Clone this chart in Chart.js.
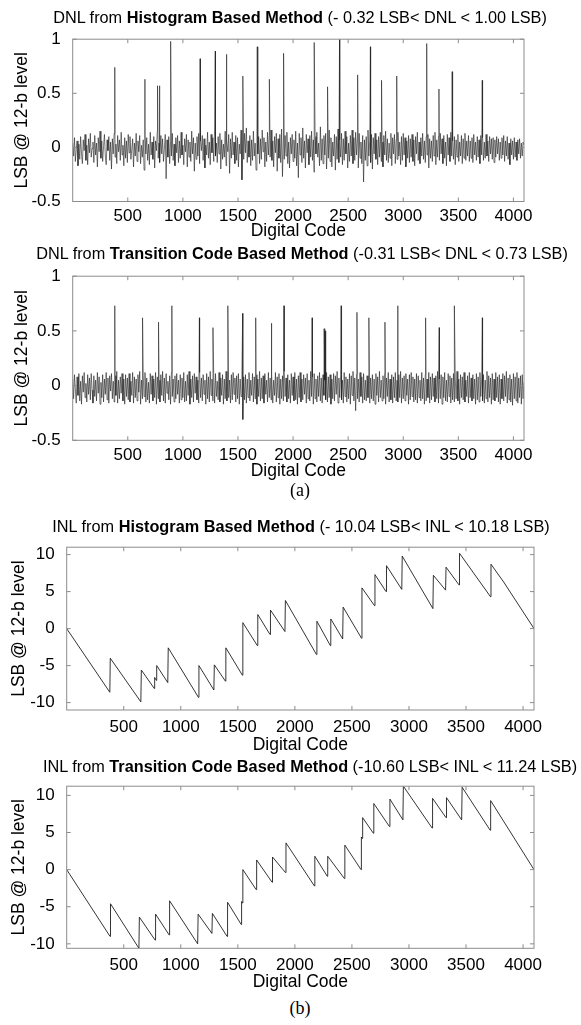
<!DOCTYPE html>
<html>
<head>
<meta charset="utf-8">
<script src="https://cdn.jsdelivr.net/npm/chart.js@4.4.1/dist/chart.umd.min.js"></script>
<style>
  body { margin: 0; background: #fff; }
  #page { position: relative; width: 581px; height: 1025px; overflow: hidden; background: #fff;
          font-family: "Liberation Sans", Arial, sans-serif; }
  canvas { position: absolute; left: 0; }
  .title { position: absolute; white-space: nowrap; font-size: 16.3px; color: #000;
           transform: translate(-50%, -50%); z-index: 2; }
  .sub { position: absolute; font-family: "Liberation Serif", "Times New Roman", serif;
         font-size: 18px; color: #000; transform: translate(-50%, -50%); }
</style>
</head>
<body>
<div id="page">
  <canvas id="dnlHist" width="581" height="217" style="top:25px"></canvas>
  <canvas id="dnlTrans" width="581" height="220" style="top:262px"></canvas>
  <canvas id="inlHist" width="581" height="223" style="top:533px"></canvas>
  <canvas id="inlTrans" width="581" height="221" style="top:772px"></canvas>

  <div class="title" style="left:300px;top:17px">DNL from <b>Histogram Based Method</b> (- 0.32 LSB&lt; DNL &lt; 1.00 LSB)</div>
  <div class="title" style="left:302px;top:253px">DNL from <b>Transition Code Based Method</b> (-0.31 LSB&lt; DNL &lt; 0.73 LSB)</div>
  <div class="sub" style="left:300px;top:490px">(a)</div>
  <div class="title" style="left:301px;top:526px">INL from <b>Histogram Based Method</b> (- 10.04 LSB&lt; INL &lt; 10.18 LSB)</div>
  <div class="title" style="left:310px;top:766px">INL from <b>Transition Code Based Method</b> (-10.60 LSB&lt; INL &lt; 11.24 LSB)</div>
  <div class="sub" style="left:300px;top:1008px">(b)</div>
</div>
<script>
// Tick labels
const xTicks = [500, 1000, 1500, 2000, 2500, 3000, 3500, 4000];
const dnlTicks = [-0.5, 0, 0.5, 1];
const inlTicks = [-10, -5, 0, 5, 10];

// DNL background noise, one reading every 8 codes (0 .. 4096), 16 readings per row
const noiseStep = 8;
const dnlHistNoise = [
  0.04, -0.08, 0.09, -0.13, -0.02, 0.06, -0.17, 0.03, -0.11, 0.10, -0.06, -0.15, 0.07, -0.03, 0.12, -0.12,
  0.02, -0.16, 0.08, -0.05, 0.13, -0.09, -0.01, 0.05, -0.14, 0.11, -0.07, 0.04, -0.18, 0.09, -0.04, 0.15,
  -0.10, 0.06, -0.13, 0.01, 0.12, -0.08, -0.16, 0.07, -0.03, 0.10, -0.12, 0.05, -0.20, 0.08, -0.06, 0.13,
  -0.09, 0.03, -0.15, 0.11, -0.04, 0.07, -0.12, 0.14, -0.07, 0.02, -0.17, 0.09, -0.10, 0.06, -0.14, 0.12,
  -0.05, 0.10, -0.11, -0.02, 0.08, -0.18, 0.04, -0.08, 0.13, -0.13, 0.06, -0.04, 0.11, -0.15, 0.02, -0.09,
  0.07, -0.21, 0.12, -0.06, 0.09, -0.12, 0.03, -0.16, 0.14, -0.07, 0.05, -0.11, 0.10, -0.19, 0.06, -0.03,
  0.15, -0.10, 0.04, -0.14, 0.11, -0.06, 0.08, -0.13, -0.02, 0.12, -0.29, 0.07, -0.09, 0.10, -0.15, 0.05,
  -0.08, 0.13, -0.12, 0.03, -0.17, 0.09, -0.05, 0.11, -0.14, 0.06, -0.10, 0.14, -0.07, 0.02, -0.16, 0.08,
  -0.04, 0.12, -0.18, 0.07, -0.09, 0.05, -0.13, 0.15, -0.06, 0.09, -0.22, 0.04, -0.11, 0.10, -0.08, 0.13,
  -0.15, 0.06, -0.03, 0.11, -0.12, 0.08, -0.19, 0.02, -0.07, 0.14, -0.10, 0.05, -0.16, 0.12, -0.05, 0.09,
  -0.13, 0.17, -0.08, 0.04, -0.14, 0.10, -0.06, 0.13, -0.20, 0.07, -0.11, 0.03, -0.09, 0.15, -0.17, 0.06,
  -0.04, 0.12, -0.24, 0.08, -0.10, 0.14, -0.07, 0.05, -0.15, 0.11, -0.12, 0.09, -0.18, 0.03, -0.06, 0.16,
  -0.30, 0.09, -0.11, 0.13, -0.05, 0.18, -0.14, 0.06, -0.09, 0.11, -0.17, 0.07, -0.12, 0.15, -0.08, 0.04,
  -0.21, 0.12, -0.06, 0.10, -0.15, 0.08, -0.11, 0.16, -0.04, 0.09, -0.18, 0.05, -0.13, 0.14, -0.07, 0.11,
  -0.09, 0.16, -0.12, 0.06, -0.18, 0.10, -0.05, 0.13, -0.22, 0.08, -0.10, 0.12, -0.14, 0.17, -0.27, 0.07,
  -0.11, 0.11, -0.08, 0.14, -0.15, 0.05, -0.19, 0.09, -0.06, 0.12, -0.13, 0.07, -0.10, 0.15, -0.17, 0.04,
  -0.28, 0.13, -0.07, 0.09, -0.14, 0.18, -0.10, 0.06, -0.19, 0.12, -0.05, 0.08, -0.16, 0.11, -0.09, 0.15,
  -0.12, 0.07, -0.23, 0.10, -0.06, 0.14, -0.09, 0.04, -0.17, 0.19, -0.12, 0.08, -0.15, 0.11, -0.07, 0.13,
  -0.20, 0.06, -0.10, 0.16, -0.13, 0.09, -0.18, 0.05, -0.08, 0.12, -0.21, 0.10, -0.11, 0.17, -0.14, 0.07,
  -0.09, 0.13, -0.16, 0.08, -0.12, 0.15, -0.06, 0.10, -0.19, 0.04, -0.13, 0.11, -0.08, 0.16, -0.15, 0.09,
  -0.12, 0.14, -0.07, 0.08, -0.19, 0.13, -0.10, 0.05, -0.15, 0.11, -0.32, 0.07, -0.12, 0.10, -0.17, 0.16,
  -0.08, 0.06, -0.14, 0.12, -0.20, 0.09, -0.06, 0.13, -0.11, 0.07, -0.16, 0.10, -0.09, 0.14, -0.13, 0.05,
  -0.18, 0.11, -0.07, 0.15, -0.12, 0.08, -0.14, 0.04, -0.10, 0.13, -0.17, 0.09, -0.06, 0.12, -0.15, 0.07,
  -0.11, 0.14, -0.08, 0.05, -0.16, 0.10, -0.12, 0.13, -0.07, 0.09, -0.18, 0.06, -0.10, 0.11, -0.14, 0.08,
  -0.09, 0.12, -0.13, 0.07, -0.17, 0.10, -0.06, 0.14, -0.12, 0.05, -0.15, 0.09, -0.08, 0.13, -0.11, 0.06,
  -0.14, 0.10, -0.07, 0.12, -0.19, 0.08, -0.10, 0.06, -0.13, 0.11, -0.08, 0.14, -0.16, 0.07, -0.09, 0.10,
  -0.12, 0.13, -0.06, 0.08, -0.15, 0.11, -0.10, 0.05, -0.17, 0.12, -0.07, 0.09, -0.13, 0.14, -0.08, 0.06,
  -0.11, 0.10, -0.16, 0.07, -0.09, 0.12, -0.13, 0.05, -0.08, 0.11, -0.15, 0.08, -0.10, 0.13, -0.12, 0.06,
  -0.08, 0.11, -0.13, 0.06, -0.10, 0.09, -0.14, 0.12, -0.07, 0.05, -0.12, 0.10, -0.09, 0.07, -0.15, 0.11,
  -0.07, 0.09, -0.12, 0.05, -0.10, 0.12, -0.08, 0.06, -0.13, 0.10, -0.06, 0.08, -0.11, 0.09, -0.14, 0.07,
  -0.09, 0.10, -0.06, 0.08, -0.12, 0.05, -0.10, 0.09, -0.07, 0.11, -0.13, 0.06, -0.08, 0.10, -0.11, 0.04,
  -0.16, 0.08, -0.07, 0.06, -0.11, 0.09, -0.09, 0.05, -0.12, 0.07, -0.06, 0.08, -0.10, 0.04, -0.08, 0.05,
  0.02
];
const dnlTransNoise = [
  0.06, -0.12, 0.10, -0.03, -0.16, 0.08, -0.09, 0.11, -0.14, 0.04, -0.17, 0.09, -0.06, 0.12, -0.11, 0.02,
  -0.15, 0.10, -0.08, 0.07, -0.13, 0.11, -0.04, -0.16, 0.09, -0.10, 0.05, -0.14, 0.12, -0.07, 0.08, -0.17,
  0.03, -0.11, 0.10, -0.15, 0.06, -0.08, 0.12, -0.13, 0.07, -0.16, 0.09, -0.05, 0.11, -0.12, 0.04, -0.15,
  0.09, -0.09, 0.13, -0.16, 0.05, -0.12, 0.08, -0.07, 0.11, -0.14, 0.06, -0.17, 0.10, -0.10, 0.07, -0.13,
  0.11, -0.15, 0.04, -0.09, 0.12, -0.16, 0.08, -0.11, 0.06, -0.14, 0.10, -0.06, 0.13, -0.17, 0.05, -0.12,
  0.09, -0.10, 0.12, -0.15, 0.07, -0.13, 0.03, -0.16, 0.11, -0.08, 0.09, -0.14, 0.06, -0.11, 0.12, -0.17,
  0.08, -0.12, 0.05, -0.15, 0.10, -0.09, 0.13, -0.14, 0.07, -0.16, 0.11, -0.07, 0.04, -0.13, 0.09, -0.17,
  0.12, -0.10, 0.06, -0.15, 0.09, -0.12, 0.11, -0.08, 0.05, -0.16, 0.10, -0.13, 0.07, -0.11, 0.12, -0.15,
  0.04, -0.14, 0.10, -0.09, 0.13, -0.17, 0.06, -0.11, 0.09, -0.15, 0.11, -0.07, 0.08, -0.13, 0.05, -0.16,
  0.12, -0.11, 0.07, -0.14, 0.10, -0.08, 0.05, -0.17, 0.11, -0.12, 0.08, -0.15, 0.13, -0.09, 0.06, -0.14,
  0.09, -0.16, 0.11, -0.10, 0.04, -0.13, 0.12, -0.15, 0.07, -0.09, 0.10, -0.17, 0.06, -0.12, 0.13, -0.14,
  0.08, -0.11, 0.05, -0.16, 0.10, -0.13, 0.12, -0.08, 0.07, -0.15, 0.09, -0.12, 0.11, -0.17, 0.06, -0.10,
  0.14, -0.31, 0.08, -0.13, 0.10, -0.16, 0.06, -0.11, 0.12, -0.14, 0.05, -0.09, 0.11, -0.15, 0.08, -0.12,
  0.10, -0.17, 0.06, -0.10, 0.13, -0.14, 0.07, -0.12, 0.09, -0.16, 0.11, -0.08, 0.05, -0.15, 0.12, -0.11,
  0.07, -0.13, 0.10, -0.16, 0.05, -0.09, 0.12, -0.15, 0.08, -0.11, 0.11, -0.17, 0.06, -0.12, 0.09, -0.14,
  0.13, -0.10, 0.07, -0.15, 0.10, -0.12, 0.05, -0.16, 0.11, -0.09, 0.08, -0.14, 0.12, -0.13, 0.06, -0.17,
  0.09, -0.11, 0.12, -0.15, 0.06, -0.13, 0.10, -0.08, 0.07, -0.16, 0.11, -0.12, 0.05, -0.14, 0.13, -0.10,
  0.08, -0.17, 0.11, -0.12, 0.06, -0.15, 0.09, -0.10, 0.12, -0.14, 0.07, -0.16, 0.10, -0.09, 0.05, -0.13,
  0.12, -0.15, 0.08, -0.11, 0.10, -0.17, 0.06, -0.12, 0.11, -0.14, 0.09, -0.08, 0.13, -0.16, 0.07, -0.11,
  0.10, -0.13, 0.05, -0.16, 0.12, -0.10, 0.08, -0.15, 0.06, -0.12, 0.11, -0.17, 0.09, -0.09, 0.13, -0.14,
  0.07, -0.23, 0.10, -0.12, 0.06, -0.15, 0.12, -0.10, 0.08, -0.16, 0.11, -0.13, 0.05, -0.14, 0.09, -0.11,
  0.12, -0.16, 0.07, -0.12, 0.10, -0.14, 0.06, -0.17, 0.11, -0.09, 0.08, -0.15, 0.13, -0.11, 0.05, -0.14,
  0.09, -0.12, 0.11, -0.17, 0.07, -0.10, 0.12, -0.15, 0.06, -0.13, 0.10, -0.16, 0.08, -0.11, 0.12, -0.14,
  0.05, -0.15, 0.10, -0.11, 0.13, -0.16, 0.07, -0.12, 0.09, -0.14, 0.11, -0.09, 0.06, -0.17, 0.10, -0.13,
  0.12, -0.10, 0.08, -0.15, 0.06, -0.13, 0.11, -0.16, 0.09, -0.11, 0.05, -0.14, 0.12, -0.12, 0.07, -0.17,
  0.10, -0.14, 0.06, -0.11, 0.12, -0.16, 0.08, -0.13, 0.11, -0.10, 0.07, -0.15, 0.09, -0.12, 0.13, -0.16,
  0.06, -0.12, 0.10, -0.17, 0.08, -0.11, 0.12, -0.14, 0.05, -0.15, 0.11, -0.10, 0.09, -0.16, 0.07, -0.13,
  0.11, -0.15, 0.07, -0.12, 0.13, -0.14, 0.06, -0.17, 0.10, -0.11, 0.08, -0.13, 0.12, -0.15, 0.05, -0.10,
  0.09, -0.16, 0.12, -0.11, 0.07, -0.14, 0.10, -0.12, 0.06, -0.17, 0.11, -0.13, 0.08, -0.15, 0.12, -0.10,
  0.07, -0.14, 0.10, -0.16, 0.05, -0.12, 0.13, -0.15, 0.09, -0.11, 0.07, -0.17, 0.11, -0.13, 0.06, -0.14,
  0.12, -0.11, 0.08, -0.15, 0.10, -0.17, 0.06, -0.12, 0.11, -0.14, 0.09, -0.10, 0.13, -0.16, 0.07, -0.13,
  0.10, -0.15, 0.06, -0.18, 0.11, -0.12, 0.08, -0.14, 0.12, -0.16, 0.07, -0.11, 0.09, -0.17, 0.10, -0.12,
  0.03
];

// DNL spikes (code, LSB)
const dnlHistSpikeCodes  = [382, 655, 770, 786, 889, 1156, 1294, 1394, 1544, 1675, 1785, 1914, 2192, 2313, 2422, 2586, 2702, 2803, 2941, 3213, 3324, 3444, 3717];
const dnlHistSpikeValues = [0.74, 0.63, 0.57, 0.57, 0.98, 0.82, 0.89, 0.86, 0.66, 0.93, 0.63, 0.87, 0.97, 0.56, 1.00, 0.67, 0.93, 0.62, 0.66, 0.96, 0.54, 0.70, 0.62];
const dnlTransSpikeCodes  = [382, 634, 779, 900, 1150, 1273, 1408, 1543, 1661, 1802, 1918, 2173, 2282, 2292, 2436, 2580, 2688, 2834, 2950, 3203, 3327, 3464, 3718];
const dnlTransSpikeValues = [0.73, 0.62, 0.58, 0.73, 0.62, 0.53, 0.73, 0.66, 0.62, 0.57, 0.73, 0.62, 0.52, 0.50, 0.73, 0.67, 0.62, 0.58, 0.73, 0.62, 0.53, 0.73, 0.62];

// INL sawtooth vertices
const inlHistCodes  = [0, 378, 382, 650, 654, 768, 771, 786, 789, 886, 890, 1155, 1159, 1290, 1294, 1391, 1395, 1540, 1544, 1671, 1675, 1782, 1786, 1913, 1917, 2189, 2193, 2311, 2315, 2419, 2423, 2584, 2588, 2698, 2702, 2799, 2803, 2937, 2941, 3210, 3214, 3321, 3325, 3439, 3443, 3715, 3719, 3830, 4096];
const inlHistValues = [0, -8.6, -4.0, -9.9, -5.6, -8.1, -6.6, -7.0, -5.0, -7.3, -2.6, -9.3, -5.0, -8.3, -4.9, -7.1, -2.6, -6.3, 0.8, -2.3, 1.9, -0.8, 2.5, -0.4, 3.8, -3.5, 1.0, -2.3, 1.3, -1.4, 2.9, -1.3, 5.5, 3.1, 7.3, 5.0, 8.5, 5.3, 9.8, 2.7, 7.2, 5.2, 8.3, 5.9, 10.18, 4.3, 8.7, 6.3, 0];
const inlTransCodes  = [0, 380, 384, 633, 637, 775, 779, 898, 902, 1148, 1152, 1273, 1277, 1406, 1410, 1530, 1533, 1540, 1544, 1661, 1665, 1800, 1804, 1918, 1922, 2171, 2175, 2284, 2288, 2434, 2438, 2580, 2583, 2590, 2594, 2688, 2692, 2829, 2833, 2947, 2951, 3203, 3207, 3325, 3329, 3462, 3466, 3712, 3716, 4096];
const inlTransValues = [0, -9.0, -4.6, -10.6, -6.4, -9.5, -6.0, -8.8, -4.2, -10.0, -6.0, -8.6, -5.9, -9.0, -4.4, -7.4, -4.3, -4.5, 0.0, -2.7, 1.3, -1.7, 1.7, -0.4, 3.6, -2.2, 1.8, -0.9, 1.8, -1.2, 3.3, 0.0, 4.4, 4.2, 7.0, 4.9, 8.9, 5.8, 9.5, 6.7, 11.24, 5.6, 9.6, 7.0, 9.7, 6.7, 11.1, 5.3, 9.3, 0];

const FONT = '"Liberation Sans", Arial, sans-serif';

function dnlPoints(noise, spikeCodes, spikeValues) {
    const pts = noise.map((v, i) => ({ x: i * noiseStep, y: v }));
    spikeCodes.forEach((c, i) => pts.push({ x: c, y: spikeValues[i] }));
    return pts.sort((a, b) => a.x - b.x);
}

function inlPoints(codes, values) {
    return codes.map((c, i) => ({ x: c, y: values[i] }));
}

// MATLAB style box with inward ticks on all four sides
const boxTicks = {
    id: 'boxTicks',
    afterDatasetsDraw(chart) {
        const { ctx, chartArea: a, scales } = chart;
        ctx.save();
        ctx.strokeStyle = '#8c8c8c';
        ctx.lineWidth = 1;
        ctx.strokeRect(a.left, a.top, a.right - a.left, a.bottom - a.top);
        ctx.beginPath();
        scales.x.ticks.forEach(t => {
            const px = scales.x.getPixelForValue(t.value);
            ctx.moveTo(px, a.bottom); ctx.lineTo(px, a.bottom - 4);
            ctx.moveTo(px, a.top); ctx.lineTo(px, a.top + 4);
        });
        scales.y.ticks.forEach(t => {
            const py = scales.y.getPixelForValue(t.value);
            ctx.moveTo(a.left, py); ctx.lineTo(a.left + 4, py);
            ctx.moveTo(a.right, py); ctx.lineTo(a.right - 4, py);
        });
        ctx.stroke();
        ctx.restore();
    }
};

function buildChart(id, points, yMin, yMax, yTicks, box) {
    const canvas = document.getElementById(id);
    const canvasTop = parseFloat(canvas.style.top);
    const canvasHeight = canvas.height;
    return new Chart(canvas, {
        type: 'line',
        data: {
            datasets: [{
                data: points,
                borderColor: '#1e1e1e',
                borderWidth: box.lineWidth,
                pointRadius: 0,
                tension: 0,
                fill: false
            }]
        },
        options: {
            responsive: false,
            animation: false,
            devicePixelRatio: 1,
            parsing: false,
            layout: { padding: { left: 0, right: 581 - box.right, top: box.top - canvasTop, bottom: 0 } },
            plugins: { legend: { display: false }, tooltip: { enabled: false } },
            scales: {
                x: {
                    type: 'linear',
                    min: 0,
                    max: 4096,
                    afterBuildTicks: s => { s.ticks = xTicks.map(v => ({ value: v })); },
                    afterFit: s => { s.height = canvasTop + canvasHeight - box.bottom; },
                    grid: { display: false },
                    border: { display: false },
                    ticks: { font: { size: 17, family: FONT }, color: '#000', padding: box.xPad,
                             maxRotation: 0, autoSkip: false, callback: v => String(v) },
                    title: { display: true, text: 'Digital Code', color: '#000',
                             font: { size: 17.5, family: FONT }, padding: { top: 0, bottom: 0 } }
                },
                y: {
                    type: 'linear',
                    min: yMin,
                    max: yMax,
                    afterBuildTicks: s => { s.ticks = yTicks.map(v => ({ value: v })); },
                    afterFit: s => { s.width = box.left; },
                    grid: { display: false },
                    border: { display: false },
                    ticks: { font: { size: 17, family: FONT }, color: '#000', padding: 4,
                             callback: v => String(v) },
                    title: { display: true, text: 'LSB @ 12-b level', color: '#000',
                             font: { size: 17.5, family: FONT }, padding: { top: box.yTitlePad, bottom: 0 } }
                }
            }
        },
        plugins: [boxTicks]
    });
}

buildChart('dnlHist', dnlPoints(dnlHistNoise, dnlHistSpikeCodes, dnlHistSpikeValues), -0.5, 1, dnlTicks,
    { left: 72.7, right: 524, top: 31.5, bottom: 201.5, xPad: -3, yTitlePad: 11.5, lineWidth: 0.6 });
buildChart('dnlTrans', dnlPoints(dnlTransNoise, dnlTransSpikeCodes, dnlTransSpikeValues), -0.5, 1, dnlTicks,
    { left: 72.7, right: 524, top: 270.7, bottom: 440.3, xPad: -3, yTitlePad: 11.5, lineWidth: 0.6 });
buildChart('inlHist', inlPoints(inlHistCodes, inlHistValues), -11, 11, inlTicks,
    { left: 66.7, right: 534, top: 541.7, bottom: 710, xPad: -1, yTitlePad: 9, lineWidth: 0.9 });
buildChart('inlTrans', inlPoints(inlTransCodes, inlTransValues), -10.6, 11.24, inlTicks,
    { left: 66.7, right: 534, top: 779.3, bottom: 948.3, xPad: -1, yTitlePad: 9, lineWidth: 0.9 });
</script>
</body>
</html>
